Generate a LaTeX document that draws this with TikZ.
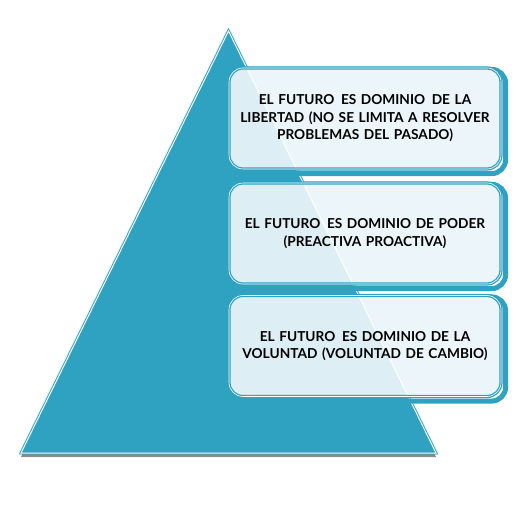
\documentclass[tikz,border=0pt]{standalone}
\usepackage{fontspec}
\setmainfont{Lato}
\usetikzlibrary{shadows}
\definecolor{azul}{RGB}{46,162,192}
\definecolor{celeste}{RGB}{236,246,250}
\definecolor{tinte}{RGB}{222,238,245}
\pgfdeclarelayer{fondo}
\pgfdeclarelayer{marcos}
\pgfsetlayers{fondo,marcos,main}
\tikzset{
  piramide/.style={fill=azul,draw=azul,double=white,line width=0.9pt,double distance=1pt,line join=miter,
    drop shadow={shadow xshift=0pt,shadow yshift=-4pt,opacity=0.45,fill=black}},
  nivel/.style={rectangle,rounded corners=14pt,minimum width=272pt,minimum height=101pt,
    text width=266pt,align=center,inner sep=0pt,
    fill=celeste,draw=azul,line width=3.2pt,
    path picture={\fill[tinte] (cima) -- (der) -- (izq) -- cycle;
                  \draw[white,line width=1pt] (cima) -- (der);},
    postaction={draw=white,line width=0.6pt},
    font=\bfseries\fontsize{13.7pt}{17.5pt}\selectfont},
  marco/.style={draw=azul,line width=5pt,rounded corners=14pt}
}
\begin{document}
\begin{tikzpicture}[x=1pt,y=1pt]
  \useasboundingbox (0,0) rectangle (532,504);
  % piramide
  \coordinate (cima) at (228.5,473);
  \coordinate (der) at (436,51);
  \coordinate (izq) at (21,51);
  \begin{pgfonlayer}{fondo}
    \draw[white!92!azul,line width=5pt,line join=round] (cima) -- (der) -- (izq) -- cycle;
    \draw[piramide] (cima) -- (der) -- (izq) -- cycle;
  \end{pgfonlayer}
  % niveles
  \node[nivel] (libertad) at (365,385.5) {EL FUTURO\hspace{0.15em} ES DOMINIO\hspace{0.15em} DE LA\\LIBERTAD (NO SE LIMITA A RESOLVER\\PROBLEMAS DEL PASADO)};
  \node[nivel] (poder) at (365,270.5) {EL FUTURO\hspace{0.15em} ES DOMINIO DE PODER\\(PREACTIVA PROACTIVA)};
  \node[nivel] (voluntad) at (365,158) {EL FUTURO\hspace{0.15em} ES DOMINIO DE LA\\VOLUNTAD (VOLUNTAD DE CAMBIO)};
  % borde grueso detras de cada caja
  \begin{pgfonlayer}{marcos}
    \foreach \caja in {libertad,poder,voluntad}
      \draw[marco] ([shift={(3pt,-3pt)}]\caja.south west) rectangle ([shift={(3pt,-3pt)}]\caja.north east);
  \end{pgfonlayer}
\end{tikzpicture}
\end{document}
